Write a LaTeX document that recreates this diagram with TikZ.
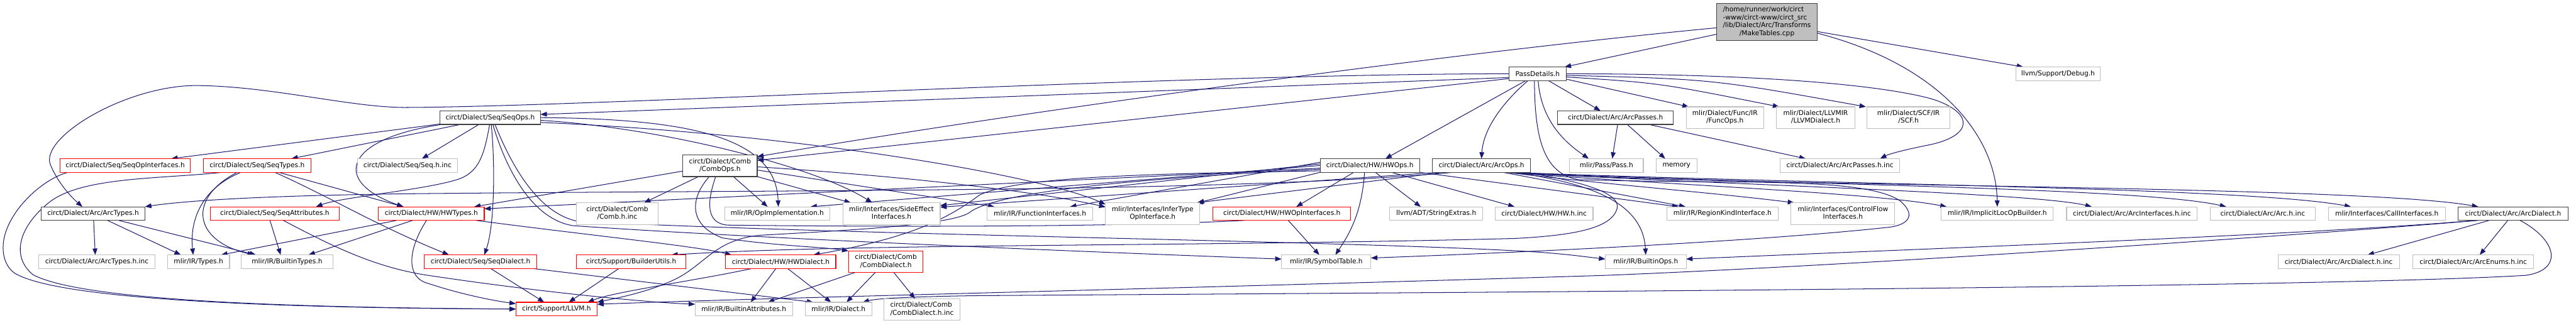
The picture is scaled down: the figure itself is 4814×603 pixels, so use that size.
\documentclass[tikz,border=0pt]{standalone}
\usepackage{fontspec}
\setmainfont{DejaVu Sans}
\usetikzlibrary{arrows.meta}
\definecolor{edgec}{HTML}{191970}
\definecolor{boxgray}{HTML}{BFBFBF}
\definecolor{boxred}{HTML}{FF0000}
\definecolor{boxblack}{HTML}{404040}
\pgfdeclarelayer{edgelayer}
\pgfsetlayers{edgelayer,main}
\newcommand\twoline[2]{\begin{tabular}{@{}l@{}}#1\\\multicolumn{1}{@{}c@{}}{#2}\end{tabular}}
\begin{document}
\begin{tikzpicture}[x=1pt,y=-1pt,
  every node/.style={font=\fontsize{12.5}{14.7}\selectfont, inner sep=0pt, outer sep=0pt, line width=1.3pt, fill=white},
  gbox/.style={draw=boxgray},
  rbox/.style={draw=boxred},
  kbox/.style={draw=boxblack},
  one/.style={minimum height=25.5pt},
  two/.style={minimum height=40.5pt},
  e/.style={draw=edgec, line width=1.2pt, -{Triangle[length=12pt,width=9pt]}},
  ep/.style={draw=edgec, line width=1.2pt},
]
\useasboundingbox (0,0) rectangle (4814,603);
% row 0/1
\node[kbox, fill=boxgray, minimum width=188pt, minimum height=70pt] (MT) at (3302,41) {\begin{tabular}{@{}l@{}}/home/runner/work/circt\\-www/circt-www/circt\_src\\/lib/Dialect/Arc/Transforms\\\multicolumn{1}{@{}c@{}}{/MakeTables.cpp}\end{tabular}};
\node[kbox, one, minimum width=107pt] (PD) at (2873.5,138) {PassDetails.h};
\node[gbox, one, minimum width=158pt] (Debug) at (3846,138) {llvm/Support/Debug.h};
% row 2
\node[kbox, one, minimum width=188pt] (SO) at (916,220) {circt/Dialect/Seq/SeqOps.h};
\node[kbox, one, minimum width=216pt] (AP) at (3019,220) {circt/Dialect/Arc/ArcPasses.h};
\node[gbox, two, minimum width=145pt] (FO) at (3223.5,220) {\twoline{mlir/Dialect/Func/IR}{/FuncOps.h}};
\node[gbox, two, minimum width=146pt] (LD) at (3393,220) {\twoline{mlir/Dialect/LLVMIR}{/LLVMDialect.h}};
\node[gbox, two, minimum width=155pt] (SCF) at (3566.5,220) {\twoline{mlir/Dialect/SCF/IR}{/SCF.h}};
% row 3
\node[rbox, one, minimum width=244pt] (SOI) at (234,309.5) {circt/Dialect/Seq/SeqOpInterfaces.h};
\node[rbox, one, minimum width=201pt] (ST) at (480.5,309.5) {circt/Dialect/Seq/SeqTypes.h};
\node[gbox, one, minimum width=187pt] (Seqinc) at (761.5,309.5) {circt/Dialect/Seq/Seq.h.inc};
\node[kbox, two, minimum width=139pt] (CO) at (1345.5,310) {\twoline{circt/Dialect/Comb}{/CombOps.h}};
\node[kbox, one, minimum width=186pt] (HO) at (2560,309.5) {circt/Dialect/HW/HWOps.h};
\node[kbox, one, minimum width=183pt] (AO) at (2768.5,309.5) {circt/Dialect/Arc/ArcOps.h};
\node[gbox, one, minimum width=138pt] (PS) at (3002,309.5) {mlir/Pass/Pass.h};
\node[gbox, one, minimum width=76pt] (memory) at (3133,309.5) {memory};
\node[gbox, one, minimum width=223pt] (API) at (3438.5,309.5) {circt/Dialect/Arc/ArcPasses.h.inc};
% row 4
\node[kbox, one, minimum width=194pt] (AT) at (174,399.5) {circt/Dialect/Arc/ArcTypes.h};
\node[rbox, one, minimum width=241pt] (SA) at (513.5,399.5) {circt/Dialect/Seq/SeqAttributes.h};
\node[rbox, one, minimum width=198pt] (HT) at (806,399.5) {circt/Dialect/HW/HWTypes.h};
\node[gbox, two, minimum width=153pt] (Combinc) at (1153.5,399.5) {\twoline{circt/Dialect/Comb}{/Comb.h.inc}};
\node[gbox, one, minimum width=197pt] (OpImpl) at (1452.5,399.5) {mlir/IR/OpImplementation.h};
\node[gbox, two, minimum width=182pt] (SE) at (1666,399.5) {\twoline{mlir/Interfaces/SideEffect}{Interfaces.h}};
\node[gbox, one, minimum width=197pt] (FI) at (1943.5,399.5) {mlir/IR/FunctionInterfaces.h};
\node[gbox, two, minimum width=176pt] (IT) at (2154,399.5) {\twoline{mlir/Interfaces/InferType}{OpInterface.h}};
\node[rbox, one, minimum width=257pt] (HOI) at (2395.5,399.5) {circt/Dialect/HW/HWOpInterfaces.h};
\node[gbox, one, minimum width=174pt] (SX) at (2684,399.5) {llvm/ADT/StringExtras.h};
\node[gbox, one, minimum width=183pt] (HWinc) at (2885.5,399.5) {circt/Dialect/HW/HW.h.inc};
\node[gbox, one, minimum width=208pt] (RK) at (3219,399.5) {mlir/IR/RegionKindInterface.h};
\node[gbox, two, minimum width=194pt] (CF) at (3444,399.5) {\twoline{mlir/Interfaces/ControlFlow}{Interfaces.h}};
\node[gbox, one, minimum width=209pt] (IL) at (3732.5,399.5) {mlir/IR/ImplicitLocOpBuilder.h};
\node[gbox, one, minimum width=244pt] (AIinc) at (3984,399.5) {circt/Dialect/Arc/ArcInterfaces.h.inc};
\node[gbox, one, minimum width=197pt] (Arcinc) at (4228.5,399.5) {circt/Dialect/Arc/Arc.h.inc};
\node[gbox, one, minimum width=219pt] (CI) at (4460.5,399.5) {mlir/Interfaces/CallInterfaces.h};
\node[kbox, one, minimum width=205pt] (AD) at (4696.5,399.5) {circt/Dialect/Arc/ArcDialect.h};
% row 5
\node[gbox, one, minimum width=218pt] (ATinc) at (181,489.5) {circt/Dialect/Arc/ArcTypes.h.inc};
\node[gbox, one, minimum width=116pt] (Types) at (371,489.5) {mlir/IR/Types.h};
\node[gbox, one, minimum width=171pt] (BT) at (536.5,489.5) {mlir/IR/BuiltinTypes.h};
\node[rbox, one, minimum width=210pt] (SD) at (898,489.5) {circt/Dialect/Seq/SeqDialect.h};
\node[rbox, one, minimum width=205pt] (BU) at (1179.5,489.5) {circt/Support/BuilderUtils.h};
\node[rbox, one, minimum width=206pt] (HD) at (1459,489.5) {circt/Dialect/HW/HWDialect.h};
\node[rbox, two, minimum width=139pt] (CD) at (1655.5,489.5) {\twoline{circt/Dialect/Comb}{/CombDialect.h}};
\node[gbox, one, minimum width=167pt] (SymTab) at (2478.5,489.5) {mlir/IR/SymbolTable.h};
\node[gbox, one, minimum width=151pt] (BO) at (3075.5,489.5) {mlir/IR/BuiltinOps.h};
\node[gbox, one, minimum width=227pt] (ADinc) at (4370.5,489.5) {circt/Dialect/Arc/ArcDialect.h.inc};
\node[gbox, one, minimum width=226pt] (AEinc) at (4622,489.5) {circt/Dialect/Arc/ArcEnums.h.inc};
% row 6
\node[rbox, one, minimum width=152pt] (LLVM) at (1040,578) {circt/Support/LLVM.h};
\node[gbox, one, minimum width=182pt] (BA) at (1390,578) {mlir/IR/BuiltinAttributes.h};
\node[gbox, one, minimum width=124pt] (Dialect) at (1567,578) {mlir/IR/Dialect.h};
\node[gbox, two, minimum width=142pt] (CDinc) at (1723,579) {\twoline{circt/Dialect/Comb}{/CombDialect.h.inc}};

\begin{pgfonlayer}{edgelayer}
% MakeTables
\draw[e] ([yshift=-23pt]MT.west) -- ([xshift=-3pt]PD.north east);
\draw[e] ([yshift=-11pt]MT.west) .. controls (2700,100) and (1900,210) .. ([yshift=17pt]CO.east);
\draw[e] ([yshift=-18pt]MT.east) -- ([xshift=-65pt]Debug.north);
\draw[e] ([yshift=-21pt]MT.east) .. controls (3620,120) and (3730,250) .. (IL.north);
% PassDetails
\draw[e] (PD.west) .. controls (2200,138) and (1100,200) .. (754,201) .. controls (650,200) and (500,160) .. (363,160) .. controls (230,162) and (70,260) .. (95,310) .. controls (110,345) and (135,370) .. ([xshift=-20pt]AT.north);
\draw[e] ([yshift=-7pt]PD.west) -- ([yshift=6pt]SO.east);
\draw[e] ([yshift=-9pt]PD.west) -- ([yshift=10pt]CO.east);
\draw[e] ([xshift=-22pt]PD.south) -- ([xshift=29pt]HO.north);
\draw[e] ([xshift=-18pt]PD.south) .. controls (2810,190) and (2772,240) .. (AO.north);
\draw[e] ([xshift=20pt]PD.south) -- ([xshift=-28pt]AP.north);
\draw[e] ([xshift=1pt]PD.south) .. controls (2880,230) and (2930,270) .. ([xshift=-33pt]PS.north);
\draw[e] ([xshift=-6pt]PD.south) .. controls (2868,260) and (2885,325) .. (2950,336) .. controls (3250,345) and (3480,330) .. (3550,375) .. controls (3580,400) and (3570,420) .. (3530,425) .. controls (3300,450) and (2900,470) .. ([yshift=7pt]SymTab.east);
\draw[e] ([yshift=-10pt]PD.east) -- ([xshift=5pt]FO.north west);
\draw[e] ([yshift=-6pt]PD.east) .. controls (3100,155) .. ([xshift=5pt]LD.north west);
\draw[e] ([yshift=-3pt]PD.east) .. controls (3200,148) .. ([xshift=-2pt]SCF.north west);
\draw[e] (PD.east) .. controls (3300,138) and (3520,160) .. (3610,185) .. controls (3690,210) and (3690,255) .. (3600,272) .. controls (3560,280) and (3530,288) .. ([xshift=75pt]API.north);
% SeqOps
\draw[e] ([yshift=-12pt]SO.west) -- ([xshift=86pt]SOI.north);
\draw[e] ([xshift=-55pt]SO.south) -- ([xshift=64pt]ST.north);
\draw[e] ([xshift=-90pt]SO.south) .. controls (640,260) and (620,340) .. ([xshift=-52pt]HT.north);
\draw[e] ([xshift=-21pt]SO.south) -- ([xshift=27pt]Seqinc.north);
\draw[e] ([xshift=-1pt]SO.south) .. controls (905,290) and (895,320) .. (860,334) .. controls (800,355) and (640,368) .. ([xshift=77pt]SA.north);
\draw[e] ([xshift=2pt]SO.south) .. controls (925,300) and (925,420) .. ([xshift=7pt]SD.north);
\draw[e] ([xshift=5pt]SO.south) .. controls (950,330) and (1000,410) .. (1070,422) .. controls (1400,445) and (2000,470) .. ([yshift=5pt]SymTab.west);
\draw[e] ([xshift=9pt]SO.south) .. controls (960,320) and (1010,400) .. (1080,414) .. controls (1600,440) and (2500,450) .. (2850,470) .. controls (2920,474) and (2960,480) .. ([yshift=5pt]BO.west);
\draw[e] (SO.east) .. controls (1300,222) and (1450,260) .. ([xshift=2pt]OpImpl.north);
\draw[e] ([yshift=-5pt]SO.east) .. controls (1250,240) and (1530,315) .. ([xshift=-36pt]SE.north);
\draw[e] ([yshift=-9pt]SO.east) .. controls (1500,250) and (1950,330) .. ([yshift=-3pt]IT.north west);
% CombOps
\draw[e] ([yshift=-10pt]CO.west) -- ([xshift=80pt]HT.north);
\draw[e] ([xshift=-40pt]CO.south) -- ([xshift=50pt]Combinc.north);
\draw[e] ([xshift=-20pt]CO.south) .. controls (1290,370) and (1285,420) .. (1350,445) .. controls (1450,460) and (1540,462) .. ([xshift=-70pt]CD.north);
\draw[e] ([xshift=25pt]CO.south) -- ([xshift=-18pt]OpImpl.north);
\draw[e] (CO.south east) -- ([xshift=-76pt]SE.north);
\draw[e] ([yshift=-8pt]CO.east) -- ([xshift=-85pt]FI.north);
\draw[e] ([yshift=-2pt]CO.east) .. controls (1700,330) and (1950,360) .. ([yshift=-8pt]IT.north west);
\draw[ep] ([xshift=-8pt]CO.south) .. controls (1320,380) and (1320,418) .. (1360,421) .. controls (1700,425) and (2100,424) .. ([xshift=-70pt]HOI.south);
% SeqTypes / SeqOpInterfaces
\draw[e] ([xshift=-65pt]ST.south) .. controls (300,335) and (150,330) .. (90,380) .. controls (35,425) and (20,480) .. (62,514) .. controls (150,560) and (500,575) .. (LLVM.west);
\draw[e] ([xshift=-107pt]SOI.south) .. controls (80,335) and (20,390) .. (8,444) .. controls (0,480) and (15,505) .. (31,513) .. controls (120,560) and (500,576) .. (LLVM.west);
\draw[e] ([xshift=-30pt]ST.south) .. controls (370,355) and (355,420) .. ([xshift=-10pt]Types.north);
\draw[e] ([xshift=-37pt]ST.south) .. controls (350,370) and (360,450) .. ([xshift=-62pt]BT.north);
\draw[e] ([xshift=40pt]ST.south) -- ([xshift=-52pt]HT.north);
\draw[e] ([xshift=33pt]ST.south) .. controls (620,370) and (700,420) .. ([xshift=-59pt]SD.north);
% HWTypes
\draw[e] ([xshift=-65pt]HT.south) -- ([xshift=42pt]Types.north);
\draw[e] ([xshift=-35pt]HT.south) -- ([xshift=40pt]BT.north);
\draw[e] ([xshift=-9pt]HT.south) .. controls (760,470) and (760,520) .. (800,530) .. controls (860,550) and (920,562) .. ([yshift=10pt]LLVM.west);
\draw[e] ([xshift=84pt]HT.south) .. controls (1100,440) and (1300,460) .. ([xshift=-92pt]HD.north);
% SeqAttributes
\draw[e] ([xshift=-9pt]SA.south) -- ([xshift=-12pt]BT.north);
\draw[e] ([xshift=16pt]SA.south) .. controls (620,460) and (700,500) .. (800,515) .. controls (1000,545) and (1200,565) .. ([yshift=9pt]BA.west);
% ArcTypes
\draw[e] ([xshift=1pt]AT.south) -- ([xshift=-3pt]ATinc.north);
\draw[e] ([xshift=27pt]AT.south) -- ([xshift=-33pt]Types.north);
\draw[e] ([xshift=48pt]AT.south) -- ([xshift=-58pt]BT.north);
% row 5 sources
\draw[e] ([xshift=19pt]SD.south) -- ([xshift=-23pt]LLVM.north);
\draw[e] ([xshift=98pt]SD.south) -- ([xshift=-47pt]Dialect.north);
\draw[e] ([xshift=-23pt]BU.south) -- ([xshift=23pt]LLVM.north);
\draw[e] ([xshift=-54pt]HD.south) .. controls (1300,525) and (1150,545) .. ([xshift=58pt]LLVM.north);
\draw[e] ([xshift=-9pt]HD.south) -- ([xshift=13pt]BA.north);
\draw[e] ([xshift=13pt]HD.south) -- ([xshift=-14pt]Dialect.north);
\draw[e] ([xshift=-58pt]CD.south) -- ([xshift=45pt]BA.north);
\draw[e] ([xshift=-20pt]CD.south) -- ([xshift=15pt]Dialect.north);
\draw[e] ([xshift=15pt]CD.south) -- ([xshift=-13pt]CDinc.north);
\draw[e] ([xshift=12pt]HOI.south) -- ([xshift=-13pt]SymTab.north);
% HWOps
\draw[e] ([xshift=-30pt]HO.south) -- ([xshift=27pt]HOI.north);
\draw[e] ([xshift=-10pt]HO.south) .. controls (2545,400) and (2520,440) .. ([xshift=17pt]SymTab.north);
\draw[e] ([xshift=10pt]HO.south) -- ([xshift=-29pt]SX.north);
\draw[e] ([xshift=40pt]HO.south) -- ([xshift=-55pt]HWinc.north);
\draw[e] ([yshift=-5pt]HO.west) -- ([yshift=9pt]HT.east);
\draw[e] ([yshift=-10pt]HO.west) .. controls (2150,325) and (1900,330) .. (1830,365) .. controls (1770,410) and (1700,445) .. ([xshift=61pt]HD.north);
\draw[e] (HO.west) -- ([xshift=62pt]OpImpl.north);
\draw[e] ([yshift=3pt]HO.west) -- ([yshift=15pt]SE.east);
\draw[e] ([yshift=6pt]HO.west) -- ([xshift=56pt]FI.north);
\draw[e] (HO.south west) -- ([xshift=-4pt]IT.north east);
\draw[e] (HO.south east) -- ([xshift=-82pt]RK.north);
\draw[e] ([yshift=-7pt]HO.west) .. controls (2100,335) and (1870,360) .. (1815,395) .. controls (1790,420) and (1600,430) .. (1420,440) .. controls (1340,448) and (1320,490) .. (1270,518) .. controls (1220,545) and (1150,558) .. (LLVM.north east);
% ArcOps
\draw[e] ([xshift=-52pt]AO.south) .. controls (2300,360) and (1500,355) .. (800,362) .. controls (500,365) and (350,375) .. ([yshift=13pt]AT.east);
\draw[e] ([xshift=55pt]AO.south) .. controls (3200,350) and (4400,345) .. ([xshift=-65pt]AD.north);
\draw[e] ([xshift=50pt]AO.south) .. controls (3200,345) and (3800,360) .. ([xshift=-75pt]AIinc.north);
\draw[e] ([xshift=52pt]AO.south) .. controls (3300,345) and (4000,350) .. ([xshift=-68pt]Arcinc.north);
\draw[e] ([xshift=54pt]AO.south) .. controls (3400,345) and (4200,350) .. ([xshift=-67pt]CI.north);
\draw[e] ([xshift=45pt]AO.south) .. controls (3100,345) and (3500,360) .. ([xshift=10pt]IL.north west);
\draw[e] ([xshift=40pt]AO.south) -- ([xshift=-69pt]RK.north);
\draw[e] ([xshift=47pt]AO.south) .. controls (3000,345) and (3200,360) .. ([xshift=6pt]CF.north west);
\draw[e] ([xshift=-70pt]AO.south) -- ([xshift=-6pt]IT.north east);
\draw[e] ([xshift=-80pt]AO.south) -- ([yshift=12pt]SE.east);
\draw[e] ([xshift=60pt]AO.south) .. controls (2950,340) and (3070,370) .. (BO.north);
\draw[e] ([xshift=80pt]AO.south) .. controls (2950,338) and (3030,360) .. (3022,390) .. controls (3012,425) and (2950,440) .. (2830,446) .. controls (2200,462) and (1600,455) .. ([xshift=75pt]BU.north);
% ArcPasses
\draw[e] ([xshift=4pt]AP.south) -- ([xshift=11pt]PS.north);
\draw[e] ([xshift=22pt]AP.south) -- ([xshift=-21pt]memory.north);
\draw[e] ([xshift=62pt]AP.south) -- ([xshift=-64pt]API.north);
% ArcDialect
\draw[e] ([xshift=-45pt]AD.south) -- ([xshift=54pt]ADinc.north);
\draw[e] ([xshift=-10pt]AD.south) -- ([xshift=12pt]AEinc.north);
\draw[e] ([xshift=-65pt]AD.south) .. controls (4300,440) and (3500,495) .. (3000,515) .. controls (2200,540) and (1500,555) .. ([yshift=9pt]LLVM.east);
\draw[e] ([xshift=-70pt]AD.south) .. controls (4300,440) and (3600,465) .. ([yshift=5pt]BO.east);
\draw[e] ([xshift=13pt]AD.south) .. controls (4780,450) and (4790,505) .. (4720,515) .. controls (4300,540) and (2500,548) .. (1820,553) .. controls (1700,555) and (1640,558) .. ([xshift=45pt]Dialect.north);
\end{pgfonlayer}
\end{tikzpicture}
\end{document}
